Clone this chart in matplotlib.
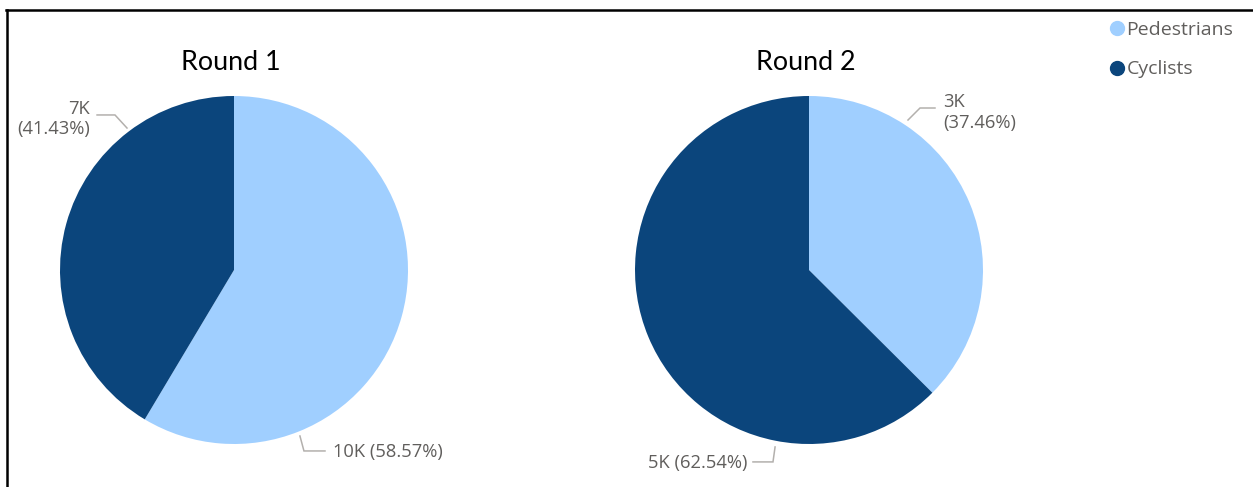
import matplotlib.pyplot as plt
from matplotlib.lines import Line2D

# survey counts per round
rounds = ['Round 1', 'Round 2']
groups = ['Pedestrians', 'Cyclists']
pedestrians = [10250, 3000]
cyclists = [7250, 5009]
colors = ['#A0CFFF', '#0B457C']

W, H = 1253, 487
fig = plt.figure(figsize=(W / 100, H / 100), dpi=100)

R = 174          # pie radius in pixels
L = 1.3          # half-width of each axes in pie-radius units
centers = [(234, 270), (809, 270)]   # pie centres, pixels from top-left

# leader line layout per round / wedge: points along the line, text spot, alignment, separator
leaders = [
    {1: dict(pts=[(-0.615, 0.816), (-0.684, 0.891), (-0.787, 0.891)],
             txt=(-0.828, 0.87), ha='right', sep='\n'),
     0: dict(pts=[(0.379, -0.954), (0.402, -1.040), (0.523, -1.040)],
             txt=(0.569, -1.045), ha='left', sep=' ')},
    {0: dict(pts=[(0.569, 0.862), (0.638, 0.931), (0.724, 0.931)],
             txt=(0.770, 0.905), ha='left', sep='\n'),
     1: dict(pts=[(-0.195, -1.017), (-0.207, -1.103), (-0.322, -1.103)],
             txt=(-0.356, -1.109), ha='right', sep=' ')},
]

label_color = '#605E5C'
line_color = '#B3B0AD'

for i, (cx, cy) in enumerate(centers):
    ax = fig.add_axes([(cx - L * R) / W, (H - cy - L * R) / H, 2 * L * R / W, 2 * L * R / H])
    vals = [pedestrians[i], cyclists[i]]
    total = sum(vals)
    ax.pie(vals, colors=colors, startangle=90, counterclock=False, radius=1)
    ax.set_xlim(-L, L)
    ax.set_ylim(-L, L)
    ax.text(-0.02, 1.19, rounds[i], ha='center', va='center', fontsize=19.4,
            family='Lato', color='black')
    for j, v in enumerate(vals):
        lay = leaders[i][j]
        xs, ys = zip(*lay['pts'])
        ax.plot(xs, ys, color=line_color, lw=1.1, clip_on=False, solid_joinstyle='miter')
        label = f"{v / 1000:.0f}K{lay['sep']}({v / total * 100:.2f}%)"
        ax.text(*lay['txt'], label, ha=lay['ha'], va='center', fontsize=13.2,
                family='Open Sans', color=label_color, linespacing=1.15)

handles = [Line2D([], [], marker='o', ls='', color=c, markersize=10) for c in colors]
fig.legend(handles, groups, loc='upper left', bbox_to_anchor=(1107 / W, 1 - 21 / H),
           frameon=False, handletextpad=0.0, handlelength=1.0, labelspacing=1.1,
           prop={'family': 'Open Sans', 'size': 14}, labelcolor=label_color,
           borderaxespad=0, borderpad=0)

# frame on the left and top edges
fig.add_artist(Line2D([7 / W, 7 / W], [0, 1 - 10 / H], transform=fig.transFigure,
                      color='black', lw=1.8))
fig.add_artist(Line2D([6 / W, 1], [1 - 10 / H, 1 - 10 / H], transform=fig.transFigure,
                      color='black', lw=1.8))

fig.savefig('out.png', dpi=100, facecolor='white')
